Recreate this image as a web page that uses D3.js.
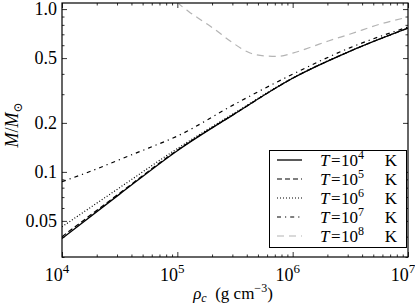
<!DOCTYPE html>
<html><head><meta charset="utf-8">
<script src="https://cdn.jsdelivr.net/npm/d3@7"></script>
<style>
body{margin:0;background:#fff}
text{font-family:"Liberation Serif","DejaVu Serif",serif;fill:#000}
</style>
</head><body>
<svg id="chart" width="415" height="305"></svg>
<script>
// central density (g cm^-3) and mass (M/Msun)
const rhoA = [1e4, 3.16e4, 1e5, 3.16e5, 1e6, 3.16e6, 1e7];
const massT4 = [0.039, 0.073, 0.135, 0.228, 0.376, 0.552, 0.764];
const massT5 = [0.040, 0.074, 0.136, 0.228, 0.376, 0.552, 0.764];
const massT6 = [0.046, 0.080, 0.139, 0.231, 0.378, 0.553, 0.765];

const rhoT7 = [1e4, 1.78e4, 3.16e4, 5.62e4, 1e5, 3.16e5, 1e6, 3.16e6, 1e7];
const massT7 = [0.087, 0.101, 0.119, 0.140, 0.166, 0.261, 0.398, 0.580, 0.776];

const rhoT8 = [8.5e4, 1e5, 1.26e5, 1.66e5, 2.04e5, 2.95e5, 4.27e5, 5.62e5, 7.41e5, 1e6, 1.41e6, 2.04e6, 3.16e6, 5.75e6, 1e7];
const massT8 = [1.25, 1.10, 0.964, 0.843, 0.764, 0.628, 0.537, 0.516, 0.512, 0.536, 0.581, 0.637, 0.703, 0.809, 0.893];

const tempExp = ['4', '5', '6', '7', '8'];
const xMajor = [1e4, 1e5, 1e6, 1e7];
const xExp = ['4', '5', '6', '7'];
const yMajor = [0.05, 0.1, 0.2, 0.5, 1.0];
const yLabels = ['0.05', '0.1', '0.2', '0.5', '1.0'];

const series = [
    {rho: rhoA, m: massT4, color: '#000', dash: null, w: 1.3},
    {rho: rhoA, m: massT5, color: '#000', dash: '5,3', w: 1.2},
    {rho: rhoA, m: massT6, color: '#000', dash: '1,2', w: 1.2},
    {rho: rhoT7, m: massT7, color: '#000', dash: '4,4,1.2,4', w: 1.2},
    {rho: rhoT8, m: massT8, color: '#b4b4b4', dash: '7,5', w: 1.2}
];

const svg = d3.select('#chart');
const L = 62, R = 408, T = 3, B = 257;
const x = d3.scaleLog().domain([1e4, 1e7]).range([L, R]);
const y = d3.scaleLog().domain([0.03, 1.09]).range([B, T]);

svg.append('defs').append('clipPath').attr('id', 'clip')
    .append('rect').attr('x', L).attr('y', T).attr('width', R - L).attr('height', B - T);

// minor tick values
const xMinor = [];
[1e4, 1e5, 1e6].forEach(d => { for (let k = 2; k <= 9; k++) xMinor.push(d * k); });
const yMinor = [0.03, 0.04, 0.06, 0.07, 0.08, 0.09, 0.3, 0.4, 0.6, 0.7, 0.8, 0.9];

function tickAxis(axisFn, scale, pos, vals, size) {
    const g = svg.append('g').attr('transform', pos)
        .call(axisFn(scale).tickValues(vals).tickSize(size).tickFormat(''));
    g.select('.domain').remove();
    g.selectAll('line').attr('stroke', '#000').attr('stroke-width', 0.8);
}
// ticks point inward on all four sides
tickAxis(d3.axisBottom, x, `translate(0,${B})`, xMajor, -5);
tickAxis(d3.axisBottom, x, `translate(0,${B})`, xMinor, -2.5);
tickAxis(d3.axisTop, x, `translate(0,${T})`, xMajor, -5);
tickAxis(d3.axisTop, x, `translate(0,${T})`, xMinor, -2.5);
tickAxis(d3.axisLeft, y, `translate(${L},0)`, yMajor, -5);
tickAxis(d3.axisLeft, y, `translate(${L},0)`, yMinor, -2.5);
tickAxis(d3.axisRight, y, `translate(${R},0)`, yMajor, -5);
tickAxis(d3.axisRight, y, `translate(${R},0)`, yMinor, -2.5);

// curves
const line = d3.line().x((d, i, a) => x(d[0])).y(d => y(d[1])).curve(d3.curveMonotoneX);
const plot = svg.append('g').attr('clip-path', 'url(#clip)');
series.forEach(s => {
    plot.append('path')
        .datum(s.rho.map((r, i) => [r, s.m[i]]))
        .attr('d', line)
        .attr('fill', 'none')
        .attr('stroke', s.color)
        .attr('stroke-width', s.w)
        .attr('stroke-dasharray', s.dash);
});

// frame
svg.append('rect').attr('x', L).attr('y', T).attr('width', R - L).attr('height', B - T)
    .attr('fill', 'none').attr('stroke', '#000').attr('stroke-width', 1.2);

// x tick labels
xMajor.forEach((v, i) => {
    const t = svg.append('text').attr('x', x(v) - 5).attr('y', 281)
        .attr('text-anchor', 'middle').attr('font-size', 18);
    t.append('tspan').text('10');
    t.append('tspan').attr('dy', -8).attr('font-size', 13).text(xExp[i]);
});

// y tick labels
yMajor.forEach((v, i) => {
    svg.append('text').attr('x', 57).attr('y', y(v) + 6)
        .attr('text-anchor', 'end').attr('font-size', 18).text(yLabels[i]);
});

// axis titles
const xt = svg.append('text').attr('x', 233).attr('y', 299).attr('text-anchor', 'middle').attr('font-size', 17);
xt.append('tspan').attr('font-style', 'italic').text('ρ');
xt.append('tspan').attr('font-style', 'italic').attr('font-size', 12).attr('dy', 3).text('c');
xt.append('tspan').attr('dy', -3).text('\u2002(g cm');
xt.append('tspan').attr('font-size', 12).attr('dy', -7).text('−3');
xt.append('tspan').attr('dy', 7).text(')');

const yt = svg.append('text').attr('transform', 'translate(18,125) rotate(-90)')
    .attr('text-anchor', 'middle').attr('font-size', 18);
yt.append('tspan').attr('font-style', 'italic').text('M');
yt.append('tspan').text('/');
yt.append('tspan').attr('font-style', 'italic').text('M');
yt.append('tspan').attr('font-size', 12).attr('dy', 4).text('⊙');

// legend
const lg = svg.append('g');
lg.append('rect').attr('x', 269.5).attr('y', 150.5).attr('width', 137).attr('height', 97)
    .attr('fill', '#fff').attr('stroke', '#000').attr('stroke-width', 1);
series.forEach((s, i) => {
    const cy = 160 + i * 19;
    lg.append('line').attr('x1', 277).attr('x2', 302).attr('y1', cy).attr('y2', cy)
        .attr('stroke', s.color).attr('stroke-width', s.w).attr('stroke-dasharray', s.dash);
    lg.append('text').attr('x', 320).attr('y', cy + 6).attr('font-size', 17)
        .attr('font-style', 'italic').text('T');
    lg.append('text').attr('x', 331).attr('y', cy + 6).attr('font-size', 17).text('=');
    const n = lg.append('text').attr('x', 341).attr('y', cy + 6).attr('font-size', 17);
    n.append('tspan').text('10');
    n.append('tspan').attr('dy', -7).attr('font-size', 12).text(tempExp[i]);
    lg.append('text').attr('x', 397).attr('y', cy + 6).attr('text-anchor', 'end')
        .attr('font-size', 17).text('K');
});
</script>
</body></html>
